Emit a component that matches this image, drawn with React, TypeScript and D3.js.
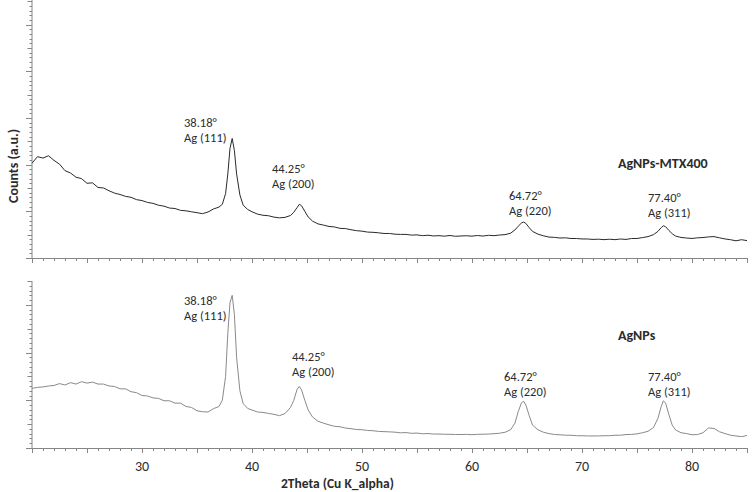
import React from "react";
import * as d3 from "d3";

// 2θ grid (degrees), denser around the Ag reflections
const twoTheta = [
  20, 20.5, 21, 21.5, 22, 22.5, 23, 23.5, 24, 24.5, 25, 25.5, 26, 26.5, 27, 27.5,
  28, 28.5, 29, 29.5, 30, 30.5, 31, 31.5, 32, 32.5, 33, 33.5, 34, 34.5, 35, 35.5,
  36, 36.5,
  37, 37.3, 37.6, 37.8, 38.0, 38.2, 38.4, 38.6, 38.9, 39.2, 39.6,
  40, 40.5, 41, 41.5, 42, 42.5, 43, 43.5,
  43.8, 44.1, 44.3, 44.5, 44.8, 45.1, 45.5,
  46, 46.5, 47, 47.5, 48, 48.5, 49, 49.5, 50, 50.5, 51, 51.5, 52, 52.5, 53, 53.5,
  54, 54.5, 55, 55.5, 56, 56.5, 57, 57.5, 58, 58.5, 59, 59.5, 60, 60.5, 61, 61.5,
  62, 62.5, 63, 63.5,
  63.9, 64.2, 64.5, 64.7, 64.9, 65.2, 65.5,
  66, 66.5, 67, 67.5, 68, 68.5, 69, 69.5, 70, 70.5, 71, 71.5, 72, 72.5, 73, 73.5,
  74, 74.5, 75, 75.5, 76, 76.5,
  76.9, 77.2, 77.4, 77.6, 77.9, 78.2,
  78.5, 79, 79.5, 80, 80.5, 81, 81.5, 82, 82.5, 83, 83.5, 84, 84.5, 85,
];

// AgNPs-MTX400 counts (a.u.)
const countsMTX = [
  2030, 2170, 2140, 2190, 2090, 2010, 1870, 1820, 1730, 1700, 1600, 1610, 1510, 1500, 1440, 1390,
  1360, 1320, 1300, 1250, 1230, 1190, 1170, 1130, 1110, 1070, 1060, 1020, 1010, 990, 970, 950,
  985, 1050,
  1090, 1150, 1380, 1800, 2350, 2560, 2300, 1800, 1350, 1130, 1040,
  990, 940, 915, 905, 875, 860, 870, 910,
  980, 1080, 1150, 1120, 1000, 880, 790,
  730, 705, 675, 665, 635, 630, 605, 585, 575, 555, 550, 540, 525, 525, 510, 505,
  505, 490, 495, 478, 488, 472, 478, 468, 482, 465, 472, 476, 468, 482, 470, 486,
  478, 492, 500, 530,
  600, 680, 750, 770, 740, 650, 570,
  510, 475, 448, 442, 428, 432, 418, 417, 408, 407, 398, 403, 393, 402, 393, 407,
  398, 417, 418, 437, 458, 500,
  570, 650, 690, 670, 590, 520,
  470, 440, 428, 418, 432, 438, 452, 458, 432, 408, 392, 368, 392, 372,
];

// AgNPs counts (a.u.)
const countsAg = [
  1250, 1270, 1280, 1300, 1310, 1350, 1320, 1370, 1340, 1390, 1360, 1380, 1340, 1340, 1300, 1290,
  1240, 1240, 1180, 1160, 1100, 1090, 1050, 1040, 990, 990, 940, 940, 870, 850, 780, 760,
  755, 825,
  870, 1000, 1500, 2400, 3050, 3200, 2800, 1900, 1200, 930, 830,
  795, 755, 745, 725, 705, 678, 722, 850,
  1000, 1230, 1290, 1220, 1000, 800, 650,
  560, 520, 485, 455, 445, 418, 405, 388, 383, 368, 362, 348, 343, 338, 332, 318,
  323, 308, 313, 298, 303, 293, 292, 288, 287, 283, 282, 286, 279, 287, 289, 292,
  300, 310, 330, 380,
  520, 760, 950, 980, 900, 680, 480,
  380, 330, 302, 283, 277, 268, 267, 258, 257, 253, 252, 253, 257, 258, 267, 268,
  282, 284, 297, 320, 350, 430,
  620, 870, 990, 940, 700, 480,
  380, 320, 302, 278, 282, 320, 420, 410, 340, 302, 268, 252, 238, 262,
];

const peakAngles = ["38.18°", "44.25°", "64.72°", "77.40°"];
const peakPlanes = ["Ag (111)", "Ag (200)", "Ag (220)", "Ag (311)"];
const seriesNames = ["AgNPs-MTX400", "AgNPs"];
const xTickLabels = [30, 40, 50, 60, 70, 80];

const W = 756;
const H = 492;
const X0 = 32;
const X1 = 747;
const FONT = "Carlito, Lato, 'Liberation Sans', sans-serif";
const AXIS = "#868686";
const TEXT = "#2b2b2b";

// panel layout: pixel range + upper count limit
const PANELS = [
  { top: 0, bottom: 258, max: 5525, color: "#2a2a2a" },
  { top: 281, bottom: 448, max: 3500, color: "#8a8a8a" },
];

// annotation anchor points (px) for each panel, one per peak
const LABEL_POS = [
  [[184, 122], [272, 168], [509, 195], [648, 197]],
  [[184, 300], [292, 356], [504, 376], [648, 376]],
];
const NAME_POS = [[618, 163], [618, 335]];

const x = d3.scaleLinear().domain([20, 85]).range([X0, X1]);

function Panel({ idx, values }: { idx: number; values: number[] }) {
  const p = PANELS[idx];
  const y = d3.scaleLinear().domain([0, p.max]).range([p.bottom, p.top]);
  const pts = twoTheta.map((t, i) => [t, values[i]] as [number, number]);
  const line = d3
    .line<[number, number]>()
    .x((d) => x(d[0]))
    .y((d) => y(d[1]));

  const yTicks = d3.range(0, p.max + 1, 100);
  const xTicks = d3.range(20, 86, 1);

  return (
    <g>
      {/* y axis */}
      <line x1={X0} x2={X0} y1={p.top} y2={p.bottom} stroke={AXIS} strokeWidth={1} />
      {yTicks.map((v) => {
        const len = v % 1000 === 0 ? 6 : v % 500 === 0 ? 4.5 : 2.5;
        const yy = Math.round(y(v)) + 0.5;
        return (
          <line key={"y" + v} x1={X0 - len} x2={X0} y1={yy} y2={yy} stroke={AXIS} strokeWidth={1} />
        );
      })}
      {/* x axis */}
      <line x1={X0} x2={X1} y1={p.bottom + 0.5} y2={p.bottom + 0.5} stroke={AXIS} strokeWidth={1} />
      {xTicks.map((t) => {
        const len = t % 5 === 0 ? 5 : 3;
        const xx = Math.round(x(t)) + 0.5;
        return (
          <line key={"x" + t} x1={xx} x2={xx} y1={p.bottom} y2={p.bottom + len} stroke={AXIS} strokeWidth={1} />
        );
      })}
      <path d={line(pts) ?? ""} fill="none" stroke={p.color} strokeWidth={1} strokeLinejoin="round" />
      {peakAngles.map((a, i) => {
        const [lx, ly] = LABEL_POS[idx][i];
        return (
          <g key={a} fontFamily={FONT} fontSize={12.5} fill={TEXT}>
            <text x={lx} y={ly} dominantBaseline="central">{a}</text>
            <text x={lx} y={ly + 15} dominantBaseline="central">{peakPlanes[i]}</text>
          </g>
        );
      })}
      <text
        x={NAME_POS[idx][0]}
        y={NAME_POS[idx][1]}
        dominantBaseline="central"
        fontFamily={FONT}
        fontSize={14}
        fontWeight="bold"
        fill={TEXT}
      >
        {seriesNames[idx]}
      </text>
    </g>
  );
}

export default function App() {
  const bottom = PANELS[1].bottom;
  return (
    <svg
      width={W}
      height={H}
      style={{ position: "absolute", left: 0, top: 0, background: "#fff" }}
    >
      <Panel idx={0} values={countsMTX} />
      <Panel idx={1} values={countsAg} />
      {xTickLabels.map((t) => (
        <text
          key={t}
          x={x(t)}
          y={bottom + 18}
          textAnchor="middle"
          dominantBaseline="central"
          fontFamily={FONT}
          fontSize={14}
          fill={TEXT}
        >
          {t}
        </text>
      ))}
      <text
        x={281}
        y={483}
        dominantBaseline="central"
        fontFamily={FONT}
        fontSize={13.5}
        fontWeight="bold"
        fill={TEXT}
      >
        2Theta (Cu K_alpha)
      </text>
      <text
        transform="translate(13,166) rotate(-90)"
        textAnchor="middle"
        dominantBaseline="central"
        fontFamily={FONT}
        fontSize={14}
        fontWeight="bold"
        fill={TEXT}
      >
        Counts (a.u.)
      </text>
    </svg>
  );
}
